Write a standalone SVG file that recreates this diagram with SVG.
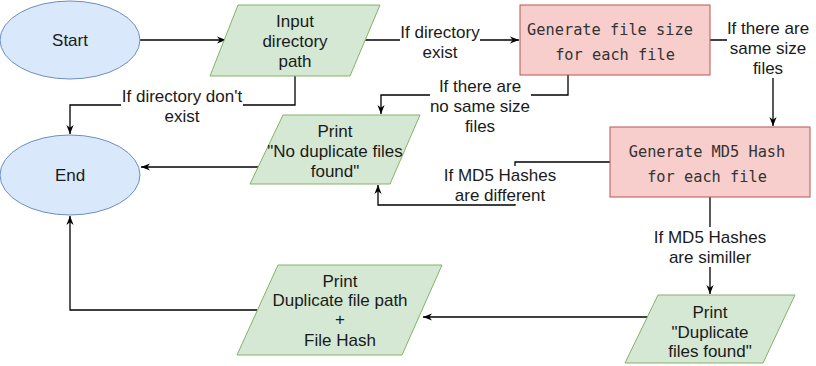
<svg xmlns="http://www.w3.org/2000/svg" width="816" height="366" viewBox="0 0 816 366">
<style>
.t{font-family:"Liberation Sans",Arial,sans-serif;font-size:17px;fill:#1a1a1a;text-anchor:middle;dominant-baseline:central}
.m{font-family:"DejaVu Sans Mono","Liberation Mono",monospace;font-size:15.3px;fill:#333;text-anchor:middle;dominant-baseline:central}
.ell{fill:#dae8fc;stroke:#6c8ebf;stroke-width:1}
.par{fill:#d5e8d4;stroke:#82b366;stroke-width:1}
.box{fill:#f8cecc;stroke:#b85450;stroke-width:1}
.c{fill:none;stroke:#000;stroke-width:1.3;marker-end:url(#arr)}
.bg{fill:#fff}
</style>
<defs>
<marker id="arr" viewBox="0 0 10 10" refX="10" refY="5" markerWidth="9" markerHeight="9" markerUnits="userSpaceOnUse" orient="auto">
<path d="M0,1 L10,5 L0,9 L3,5 z" fill="#000"/>
</marker>
</defs>
<rect width="816" height="366" fill="#fff"/>

<g id="connectors">
<path class="c" d="M140,40 L226,40"/>
<path class="c" d="M365,40 L519,40"/>
<path class="c" d="M295,76 L295,105 L70,105 L70,134"/>
<path class="c" d="M710,40 L773,40 L773,126"/>
<path class="c" d="M568,75 L568,95 L381,95 L381,114"/>
<path class="c" d="M258,167 L141,167"/>
<path class="c" d="M610,162 L515,162 L515,205 L378,205 L378,185"/>
<path class="c" d="M710,197 L710,294"/>
<path class="c" d="M648,317 L423,317"/>
<path class="c" d="M257,310 L70,310 L70,216"/>

<rect class="bg" x="400" y="22" width="80" height="40"/>
<text class="t" x="440" y="32">If directory</text>
<text class="t" x="440" y="52">exist</text>

<rect class="bg" x="121" y="87" width="122" height="38"/>
<text class="t" x="182" y="96">If directory don't</text>
<text class="t" x="182" y="116">exist</text>

<rect class="bg" x="430" y="76" width="101" height="60"/>
<text class="t" x="480" y="86">If there are</text>
<text class="t" x="480" y="106">no same size</text>
<text class="t" x="480" y="126">files</text>

<rect class="bg" x="727" y="18" width="82" height="60"/>
<text class="t" x="768" y="28">If there are</text>
<text class="t" x="768" y="48">same size</text>
<text class="t" x="768" y="68">files</text>

<rect class="bg" x="443" y="166" width="114" height="38"/>
<text class="t" x="500" y="175">If MD5 Hashes</text>
<text class="t" x="500" y="195">are different</text>

<rect class="bg" x="653" y="227" width="114" height="40"/>
<text class="t" x="710" y="237">If MD5 Hashes</text>
<text class="t" x="710" y="257">are similler</text>
</g>

<g id="start">
<ellipse class="ell" cx="70" cy="40" rx="70" ry="39"/>
<text class="t" x="70" y="40">Start</text>
</g>

<g id="input">
<polygon class="par" points="238,5 380,5 350,76 210,76"/>
<text class="t" x="295" y="21">Input</text>
<text class="t" x="295" y="41">directory</text>
<text class="t" x="295" y="61">path</text>
</g>

<g id="gen-size">
<rect class="box" x="520" y="5" width="190" height="70"/>
<text class="m" x="610" y="30">Generate file size</text>
<text class="m" x="615" y="55">for each file</text>
</g>

<g id="gen-md5">
<rect class="box" x="610" y="127" width="200" height="70"/>
<text class="m" x="707" y="152">Generate MD5 Hash</text>
<text class="m" x="707" y="177">for each file</text>
</g>

<g id="print-none">
<polygon class="par" points="283,115 420,115 390,184 250,184"/>
<text class="t" x="335" y="131">Print</text>
<text class="t" x="335" y="151">"No duplicate files</text>
<text class="t" x="335" y="171">found"</text>
</g>

<g id="end">
<ellipse class="ell" cx="70" cy="175" rx="70" ry="40"/>
<text class="t" x="70" y="175">End</text>
</g>

<g id="print-found">
<polygon class="par" points="658,295 795,295 763,363 625,363"/>
<text class="t" x="710" y="312">Print</text>
<text class="t" x="710" y="332">"Duplicate</text>
<text class="t" x="710" y="351">files found"</text>
</g>

<g id="print-path">
<polygon class="par" points="278,265 442,265 402,355 237,355"/>
<text class="t" x="340" y="281">Print</text>
<text class="t" x="340" y="300">Duplicate file path</text>
<text class="t" x="340" y="319">+</text>
<text class="t" x="340" y="340">File Hash</text>
</g>
</svg>
